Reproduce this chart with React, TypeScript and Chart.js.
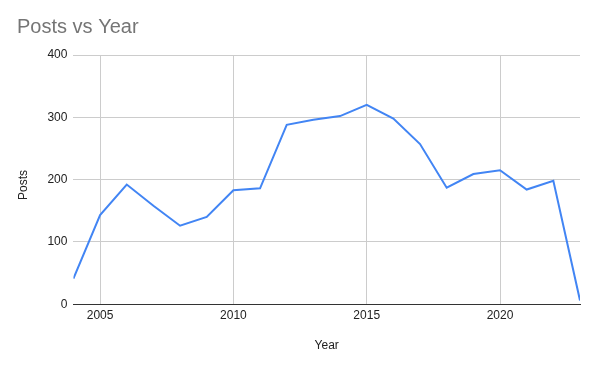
import React, { useEffect, useRef } from "react";
import { Chart, registerables } from "chart.js";

Chart.register(...registerables);

const years = [2004, 2005, 2006, 2007, 2008, 2009, 2010, 2011, 2012, 2013, 2014, 2015, 2016, 2017, 2018, 2019, 2020, 2021, 2022, 2023];
const posts = [41, 143, 192, 158, 126, 140, 183, 186, 288, 296, 302, 320, 298, 257, 187, 209, 215, 184, 198, 6];
const xTicks = [2005, 2010, 2015, 2020];
const yTicks = [0, 100, 200, 300, 400];
const chartTitle = "Posts vs Year";
const xTitle = "Year";
const yTitle = "Posts";

const FONT = "'Liberation Sans', Arial, sans-serif";

const titlePlugin = {
  id: "sheetTitle",
  afterDraw(chart: any) {
    const ctx = chart.ctx;
    ctx.save();
    ctx.font = `20px ${FONT}`;
    ctx.fillStyle = "#757575";
    ctx.textAlign = "left";
    ctx.textBaseline = "alphabetic";
    ctx.fillText(chartTitle, 17, 33);
    ctx.restore();
    // y axis title
    ctx.save();
    ctx.font = `12px ${FONT}`;
    ctx.fillStyle = "#222";
    ctx.textAlign = "center";
    ctx.textBaseline = "middle";
    ctx.translate(23.5, 185);
    ctx.rotate(-Math.PI / 2);
    ctx.fillText(yTitle, 0, 0);
    ctx.restore();
  },
};

export default function App() {
  const ref = useRef<HTMLCanvasElement>(null);
  useEffect(() => {
    if (!ref.current) return;
    const chart = new Chart(ref.current, {
      type: "line",
      data: {
        datasets: [
          {
            data: years.map((y, i) => ({ x: y, y: posts[i] })),
            borderColor: "#4285F4",
            borderWidth: 2,
            pointRadius: 0,
            tension: 0,
            fill: false,
          },
        ],
      },
      options: {
        animation: false,
        responsive: false,
        devicePixelRatio: 1,
        layout: { padding: { top: 55, right: 16, bottom: 0, left: 0 } },
        plugins: { legend: { display: false }, tooltip: { enabled: false }, title: { display: false } },
        scales: {
          x: {
            type: "linear",
            min: 2004,
            max: 2023,
            afterBuildTicks: (axis: any) => {
              axis.ticks = xTicks.map((v) => ({ value: v }));
            },
            ticks: {
              padding: 4,
              maxRotation: 0,
              color: "#222",
              font: { family: FONT, size: 12 },
              callback: (v: any) => String(v),
            },
            grid: { color: "#cccccc", drawTicks: false, lineWidth: 1 },
            border: { display: true, color: "#333333", width: 1 },
            title: {
              display: true,
              text: xTitle,
              color: "#222",
              font: { family: FONT, size: 12 },
              padding: { top: 12, bottom: 14 },
            },
          },
          y: {
            min: 0,
            max: 400,
            afterBuildTicks: (axis: any) => {
              axis.ticks = yTicks.map((v) => ({ value: v }));
            },
            ticks: {
              padding: 6,
              color: "#222",
              font: { family: FONT, size: 12 },
            },
            grid: {
              color: (c: any) => (c.tick && c.tick.value === 0 ? "rgba(0,0,0,0)" : "#cccccc"),
              drawTicks: false,
              lineWidth: 1,
            },
            border: { display: false },
            title: {
              display: true,
              text: yTitle,
              color: "rgba(0,0,0,0)",
              font: { family: FONT, size: 12 },
              padding: { top: 17, bottom: 10 },
            },
          },
        },
      },
      plugins: [titlePlugin],
    });
    return () => chart.destroy();
  }, []);
  return (
    <div style={{ position: "fixed", left: 0, top: 0, width: 596, height: 367, background: "#fff" }}>
      <canvas ref={ref} width={596} height={367} />
    </div>
  );
}
